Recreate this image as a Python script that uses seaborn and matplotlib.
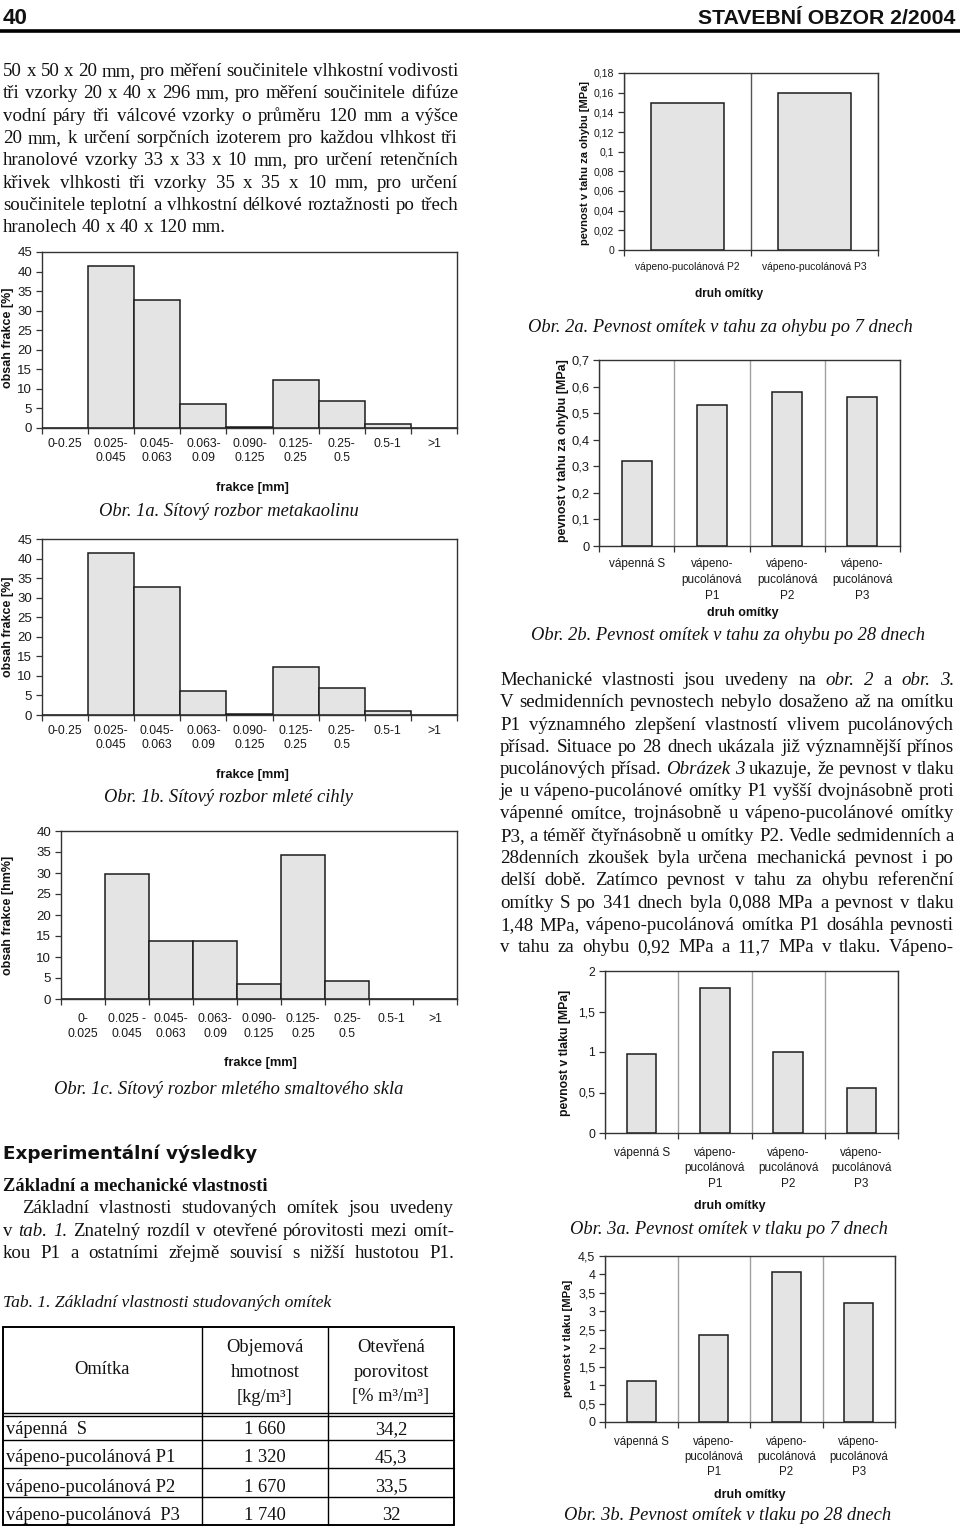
import numpy as np
import pandas as pd
import matplotlib
matplotlib.use("Agg")
import matplotlib.pyplot as plt
import seaborn as sns

sns.set_style("ticks")
plt.rcParams["font.family"] = ["Liberation Sans", "DejaVu Sans"]
plt.rcParams["axes.unicode_minus"] = False

W, H = 960, 1531
SERIF = ["Liberation Serif", "DejaVu Serif"]
SANS = ["Liberation Sans", "DejaVu Sans"]

# ---------------- data ----------------
frac_cats = ["0-0.25", "0.025-\n0.045", "0.045-\n0.063", "0.063-\n0.09", "0.090-\n0.125",
             "0.125-\n0.25", "0.25-\n0.5", "0.5-1", ">1"]
frac_1a = [0, 41.4, 32.6, 6.2, 0.25, 12.2, 7.0, 1.0, 0]
frac_1b = [0, 41.3, 32.6, 6.2, 0.35, 12.2, 7.0, 1.0, 0]
frac_cats_c = ["0-\n0.025", "0.025 -\n0.045", "0.045-\n0.063", "0.063-\n0.09", "0.090-\n0.125",
               "0.125-\n0.25", "0.25-\n0.5", "0.5-1", ">1"]
frac_1c = [0, 29.7, 13.8, 13.8, 3.6, 34.4, 4.4, 0, 0]

omitky_2a = ["vápeno-pucolánová P2", "vápeno-pucolánová P3"]
ohyb_7d = [0.150, 0.160]
omitky = ["vápenná S", "vápeno-\npucolánová\nP1", "vápeno-\npucolánová\nP2", "vápeno-\npucolánová\nP3"]
ohyb_28d = [0.32, 0.53, 0.58, 0.56]
tlak_7d = [0.97, 1.79, 1.00, 0.55]
tlak_28d = [1.11, 2.37, 4.07, 3.23]

tab_omitka = ["vápenná  S", "vápeno-pucolánová P1", "vápeno-pucolánová P2", "vápeno-pucolánová  P3"]
tab_hmotnost = ["1 660", "1 320", "1 670", "1 740"]
tab_porovitost = ["34,2", "45,3", "33,5", "32"]

# ---------------- figure ----------------
fig = plt.figure(figsize=(W / 100, H / 100), dpi=100)
pa = fig.add_axes([0, 0, 1, 1])
pa.set_xlim(0, W)
pa.set_ylim(H, 0)
pa.axis("off")
renderer = fig.canvas.get_renderer()

BAR = "#e4e4e4"
EDGE = "#1c1c1c"
SPINE = "#333333"


def text_width(s, **kw):
    t = pa.text(0, 0, s, **kw)
    w = t.get_window_extent(renderer).width
    t.remove()
    return w


def fit_size(s, target, **kw):
    return 10 * target / text_width(s, fontsize=10, **kw)


def line(s, x0, x1, y, size, justify=True, family=SERIF, weight="normal"):
    items = []
    for tok in s.split(" "):
        st = "normal"
        if tok.startswith("*"):
            tok, st = tok[1:], "italic"
        items.append((tok, st))
    ws = [text_width(t, fontsize=size, family=family, style=st, weight=weight) for t, st in items]
    if justify and len(items) > 1:
        gap = (x1 - x0 - sum(ws)) / (len(items) - 1)
    else:
        gap = (text_width("a a", fontsize=size, family=family, weight=weight)
               - text_width("aa", fontsize=size, family=family, weight=weight))
    x = x0
    for (t, st), w in zip(items, ws):
        pa.text(x, y, t, fontsize=size, family=family, style=st, weight=weight,
                ha="left", va="baseline", color="#111111")
        x += w + gap


def fmt_cz(v):
    return f"{v:g}".replace(".", ",")


def bar_chart(box, cats, vals, ymax, ystep, width, xfs, yfs, xpad, fmt=fmt_cz,
              dividers=None, lsp=1.25):
    l, t, r, b = box
    ax = fig.add_axes([l / W, 1 - b / H, (r - l) / W, (b - t) / H])
    df = pd.DataFrame({"cat": cats, "val": vals})
    sns.barplot(data=df, x="cat", y="val", order=cats, width=width, color=BAR,
                saturation=1, edgecolor=EDGE, linewidth=1.1, ax=ax, zorder=3)
    n = len(cats)
    ax.set_xlim(-0.5, n - 0.5)
    ax.set_ylim(0, ymax)
    yt = np.round(np.arange(0, ymax + ystep / 2, ystep), 4)
    ax.set_yticks(yt)
    ax.set_yticklabels([fmt(v) for v in yt])
    ax.set_xticks(np.arange(-0.5, n, 1.0), minor=True)
    ax.tick_params(axis="x", which="major", length=0, pad=xpad, labelsize=xfs,
                   labelcolor="#1a1a1a")
    ax.tick_params(axis="x", which="minor", length=4, width=0.9, color=SPINE, direction="out")
    ax.tick_params(axis="y", length=4, width=0.9, color=SPINE, pad=3, labelsize=yfs,
                   labelcolor="#1a1a1a")
    for lbl in ax.get_xticklabels():
        lbl.set_linespacing(lsp)
    for s in ax.spines.values():
        s.set_visible(True)
        s.set_color(SPINE)
        s.set_linewidth(1.0)
    ax.set_xlabel("")
    ax.set_ylabel("")
    if dividers:
        ax.grid(True, axis="x", which="minor", color=dividers, lw=1.0, zorder=1)
    ax.grid(False, axis="y")
    return ax


def label(x, y, s, size, rot=0, weight="bold", family=SANS, style="normal", ha="center",
          va="center"):
    pa.text(x, y, s, fontsize=size, rotation=rot, weight=weight, family=family, style=style,
            ha=ha, va=va, color="#111111")


# ---------------- header ----------------
pa.plot([0, W], [31, 31], color="black", lw=2.6, solid_capstyle="butt")
HF = ["Liberation Sans Narrow", "Liberation Sans"]
hs = fit_size("STAVEBNÍ OBZOR 2/2004", 258, family=HF, weight="bold")
label(3, 24, "40", hs * 1.05, weight="bold", family=HF, ha="left", va="baseline")
label(955, 24, "STAVEBNÍ OBZOR 2/2004", hs, weight="bold", family=HF, ha="right", va="baseline")

# ---------------- body text ----------------
BS = 13.6
para1 = ["50 x 50 x 20 mm, pro měření součinitele vlhkostní vodivosti",
         "tři vzorky 20 x 40 x 296 mm, pro měření součinitele difúze",
         "vodní páry tři válcové vzorky o průměru 120 mm a výšce",
         "20 mm, k určení sorpčních izoterem pro každou vlhkost tři",
         "hranolové vzorky 33 x 33 x 10 mm, pro určení retenčních",
         "křivek vlhkosti tři vzorky 35 x 35 x 10 mm, pro určení",
         "součinitele teplotní a vlhkostní délkové roztažnosti po třech",
         "hranolech 40 x 40 x 120 mm."]
for i, s in enumerate(para1):
    line(s, 3, 458, 76 + 22.3 * i, BS, justify=(i < len(para1) - 1))

para2 = ["Mechanické vlastnosti jsou uvedeny na *obr. *2 a *obr. *3.",
         "V sedmidenních pevnostech nebylo dosaženo až na omítku",
         "P1 významného zlepšení vlastností vlivem pucolánových",
         "přísad. Situace po 28 dnech ukázala již významnější přínos",
         "pucolánových přísad. *Obrázek *3 ukazuje, že pevnost v tlaku",
         "je u vápeno-pucolánové omítky P1 vyšší dvojnásobně proti",
         "vápenné omítce, trojnásobně u vápeno-pucolánové omítky",
         "P3, a téměř čtyřnásobně u omítky P2. Vedle sedmidenních a",
         "28denních zkoušek byla určena mechanická pevnost i po",
         "delší době. Zatímco pevnost v tahu za ohybu referenční",
         "omítky S po 341 dnech byla 0,088 MPa a pevnost v tlaku",
         "1,48 MPa, vápeno-pucolánová omítka P1 dosáhla pevnosti",
         "v tahu za ohybu 0,92 MPa a 11,7 MPa v tlaku. Vápeno-"]
for i, s in enumerate(para2):
    line(s, 500, 954, 685 + 22.25 * i, BS)

es = fit_size("Experimentální výsledky", 254, family=["DejaVu Sans"], weight="heavy")
label(3, 1159, "Experimentální výsledky", es, weight="heavy", family=["DejaVu Sans"],
      ha="left", va="baseline")
zs = fit_size("Základní a mechanické vlastnosti", 264, family=SERIF, weight="bold")
label(3, 1191, "Základní a mechanické vlastnosti", zs, family=SERIF, ha="left", va="baseline")
line("Základní vlastnosti studovaných omítek jsou uvedeny", 22, 454, 1213, BS)
line("v *tab. *1. Znatelný rozdíl v otevřené pórovitosti mezi omít-", 3, 454, 1236, BS)
line("kou P1 a ostatními zřejmě souvisí s nižší hustotou P1.", 3, 454, 1258, BS)

# ---------------- table ----------------
label(3, 1307, "Tab. 1. Základní vlastnosti studovaných omítek", 12.6, weight="normal",
      family=SERIF, style="italic", ha="left", va="baseline")
xs = [3, 202, 328, 454]
ys = [1327, 1413, 1440, 1468, 1497, 1525]
for x in xs:
    pa.plot([x, x], [ys[0], ys[-1]], color="black", lw=1.4 if x in (3, 454) else 1.0)
for y in ys:
    pa.plot([xs[0], xs[-1]], [y, y], color="black", lw=1.4 if y in (1327, 1525) else 1.0)
pa.plot([xs[0], xs[-1]], [1416, 1416], color="black", lw=1.0)
TS = 13.3
label(102, 1370, "Omítka", TS, weight="normal", family=SERIF)
for j, s in enumerate(["Objemová", "hmotnost", "[kg/m³]"]):
    label(265, 1348 + 24.5 * j, s, TS, weight="normal", family=SERIF)
for j, s in enumerate(["Otevřená", "porovitost", "[% m³/m³]"]):
    label(391, 1348 + 24.5 * j, s, TS, weight="normal", family=SERIF)
row_c = [1430, 1458, 1487, 1515]
for i in range(len(tab_omitka)):
    label(6, row_c[i], tab_omitka[i], TS, weight="normal", family=SERIF, ha="left")
    label(265, row_c[i], tab_hmotnost[i], TS, weight="normal", family=SERIF)
    label(391, row_c[i], tab_porovitost[i], TS, weight="normal", family=SERIF)

# ---------------- charts ----------------
CAP = 13.3
ifmt = lambda v: f"{v:g}"
# Obr. 1a
bar_chart((42, 252, 457, 428), frac_cats, frac_1a, 45, 5, 1.0, 8.8, 9.5, 7, fmt=ifmt, lsp=1.3)
label(8, 338, "obsah frakce [%]", 9, rot=90)
label(252, 488, "frakce [mm]", 9.3)
label(229, 512, "Obr. 1a. Sítový rozbor metakaolinu", CAP, weight="normal", family=SERIF,
      style="italic")
# Obr. 1b
bar_chart((42, 539, 457, 715), frac_cats, frac_1b, 45, 5, 1.0, 8.8, 9.5, 7, fmt=ifmt, lsp=1.3)
label(8, 627, "obsah frakce [%]", 9, rot=90)
label(252, 775, "frakce [mm]", 9.3)
label(229, 798, "Obr. 1b. Sítový rozbor mleté cihly", CAP, weight="normal", family=SERIF,
      style="italic")
# Obr. 1c
bar_chart((61, 831, 457, 999), frac_cats_c, frac_1c, 40, 5, 1.0, 8.8, 9.5, 10, fmt=ifmt, lsp=1.3)
label(8, 915, "obsah frakce [hm%]", 9, rot=90)
label(260, 1063, "frakce [mm]", 9.3)
label(229, 1090, "Obr. 1c. Sítový rozbor mletého smaltového skla", CAP, weight="normal",
      family=SERIF, style="italic")

# Obr. 2a
bar_chart((624, 73, 878, 250), omitky_2a, ohyb_7d, 0.18, 0.02, 0.57, 7.4, 7.6, 8.5,
          dividers="#555555")
label(585, 163, "pevnost v tahu za ohybu [MPa]", 8, rot=90)
label(729, 294, "druh omítky", 8.6)
label(720, 327, "Obr. 2a. Pevnost omítek v tahu za ohybu po 7 dnech", CAP, weight="normal",
      family=SERIF, style="italic")
# Obr. 2b
bar_chart((599, 360, 900, 546), omitky, ohyb_28d, 0.7, 0.1, 0.4, 8.5, 9.3, 8.5,
          dividers="#a0a0a0", lsp=1.45)
label(563, 451, "pevnost v tahu za ohybu [MPa]", 8.9, rot=90)
label(743, 613, "druh omítky", 9)
label(728, 635, "Obr. 2b. Pevnost omítek v tahu za ohybu po 28 dnech", CAP, weight="normal",
      family=SERIF, style="italic")
# Obr. 3a
bar_chart((605, 971, 898, 1133), omitky, tlak_7d, 2, 0.5, 0.4, 8.5, 8.8, 10,
          dividers="#a0a0a0", lsp=1.37)
label(565, 1053, "pevnost v tlaku [MPa]", 8.8, rot=90)
label(730, 1206, "druh omítky", 9)
label(729, 1229, "Obr. 3a. Pevnost omítek v tlaku po 7 dnech", CAP, weight="normal",
      family=SERIF, style="italic")
# Obr. 3b
bar_chart((605, 1256, 895, 1422), omitky, tlak_28d, 4.5, 0.5, 0.4, 8.3, 9.0, 10,
          dividers="#a0a0a0", lsp=1.35)
label(568, 1338, "pevnost v tlaku [MPa]", 8.2, rot=90)
label(750, 1495, "druh omítky", 9)
label(728, 1516, "Obr. 3b. Pevnost omítek v tlaku po 28 dnech", CAP, weight="normal",
      family=SERIF, style="italic")

fig.savefig("out.png", dpi=100)
